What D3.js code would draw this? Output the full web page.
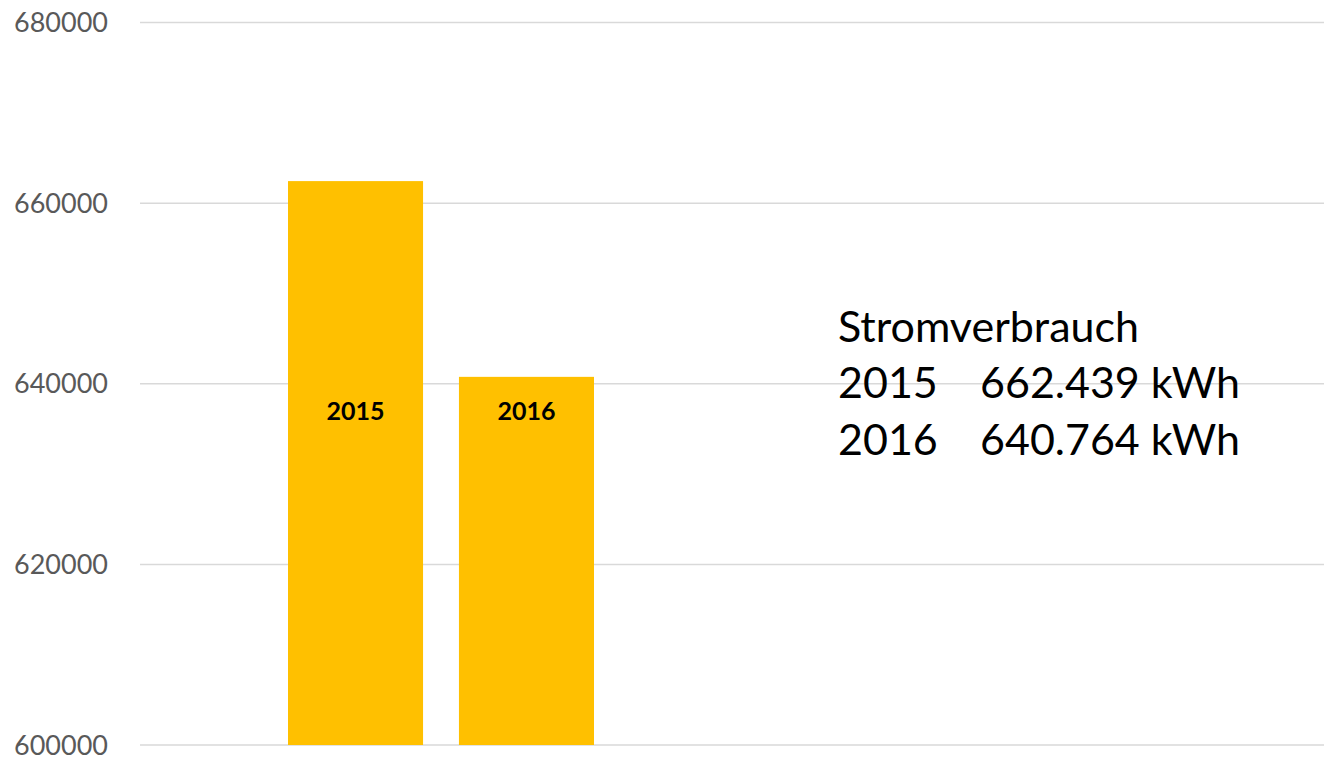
<!DOCTYPE html>
<html>
<head>
<meta charset="utf-8">
<script src="https://d3js.org/d3.v7.min.js"></script>
<style>
  body { margin: 0; background: #ffffff; }
  svg { display: block; }
  .tick-label { font-family: Lato, "Open Sans", sans-serif; font-size: 27px; fill: #595959; }
  .bar-label { font-family: Lato, "Open Sans", sans-serif; font-size: 25px; font-weight: bold; fill: #000000; }
  .note { font-family: Lato, "Open Sans", sans-serif; font-size: 43px; fill: #000000; }
</style>
</head>
<body>
<div id="chart"></div>
<script>
var years = ["2015", "2016"];
var values = [662439, 640764];
var yTicks = [600000, 620000, 640000, 660000, 680000];
var noteTitle = "Stromverbrauch";
var noteValues = ["662.439 kWh", "640.764 kWh"];

var width = 1324;
var height = 758;
var BAR_COLOR = "#FFC000";

var svg = d3.select("#chart").append("svg")
  .attr("width", width)
  .attr("height", height)

var y = d3.scaleLinear()
  .domain([600000, 680000])
  .range([745, 22.5]);

// bars sit in the left part of the plot area, one band per year
var x = d3.scaleBand()
  .domain(years)
  .range([288, 594])
  .paddingInner(0.21)
  .paddingOuter(0);

// gridlines
svg.selectAll(".grid")
  .data(yTicks)
  .enter().append("line")
    .attr("class", "grid")
    .attr("x1", 140)
    .attr("x2", width)
    .attr("y1", function(d){ return y(d) })
    .attr("y2", function(d){ return y(d) })
    .attr("stroke", "#d9d9d9")
    .attr("stroke-width", 1.5)

svg.selectAll(".tick-label")
  .data(yTicks)
  .enter().append("text")
    .attr("class", "tick-label")
    .attr("x", 108)
    .attr("y", function(d){ return y(d) })
    .attr("dy", "0.36em")
    .attr("text-anchor", "end")
    .text(function(d){ return d })

var bars = svg.selectAll(".bar")
  .data(values)
  .enter().append("g")
    .attr("class", "bar")

bars.append("rect")
  .attr("x", function(d, i){ return x(years[i]) })
  .attr("width", x.bandwidth())
  .attr("y", function(d){ return y(d) })
  .attr("height", function(d){ return y(600000) - y(d) })
  .attr("fill", BAR_COLOR)

bars.append("text")
  .attr("class", "bar-label")
  .attr("x", function(d, i){ return x(years[i]) + x.bandwidth() / 2 })
  .attr("y", 420)
  .attr("text-anchor", "middle")
  .text(function(d, i){ return years[i] })

// text box on the right
var note = svg.append("g")

note.append("text")
  .attr("class", "note")
  .attr("x", 838)
  .attr("y", 342)
  .text(noteTitle)

for (var i = 0; i < years.length; i++){
  note.append("text")
    .attr("class", "note")
    .attr("x", 838)
    .attr("y", 398 + i * 57)
    .text(years[i])
  note.append("text")
    .attr("class", "note")
    .attr("x", 980)
    .attr("y", 398 + i * 57)
    .text(noteValues[i])
}
</script>
</body>
</html>
